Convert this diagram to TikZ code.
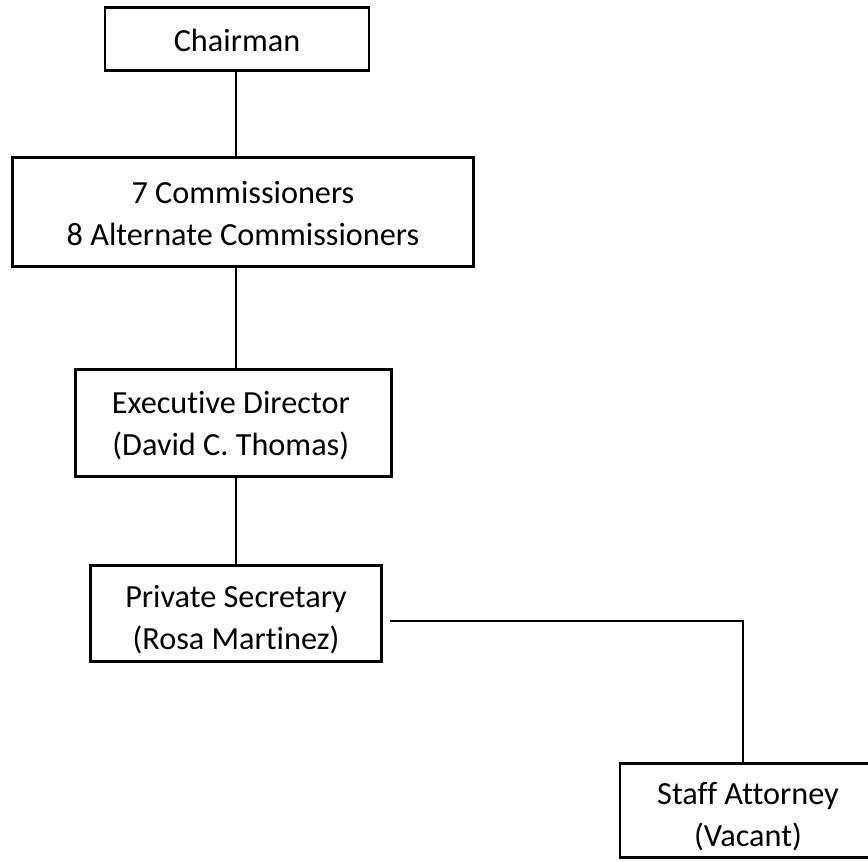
\documentclass[tikz,border=0pt]{standalone}
\usepackage{fontspec}
\setmainfont{Carlito}[Ligatures=NoCommon]
\begin{document}
\begin{tikzpicture}[x=0.75pt,y=-0.75pt,
  orgbox/.style={draw=black,line width=1.6pt,inner sep=0pt},
  boxtext/.style={align=center,inner sep=0pt,
    font=\fontsize{24.2pt}{31.2pt}\selectfont},
  link/.style={draw=black,line width=1.5pt}]
  % page area
  \clip (0,0) rectangle (868,861);
  \fill[white] (0,0) rectangle (868,861);

  % boxes of the chart
  \node[orgbox,minimum width=264pt*0.75,minimum height=63pt*0.75,
    label={[boxtext,yshift=-1pt]center:Chairman}] (chair) at (237,39) {};
  \node[orgbox,minimum width=461pt*0.75,minimum height=109pt*0.75,
    label={[boxtext,yshift=-1pt]center:{7 Commissioners\\8 Alternate Commissioners}}] (comm) at (243,212) {};
  \node[orgbox,minimum width=316pt*0.75,minimum height=107pt*0.75,
    label={[boxtext,xshift=-2pt,yshift=-2pt]center:{Executive Director\\(David C. Thomas)}}] (exec) at (233.5,423) {};
  \node[orgbox,minimum width=291pt*0.75,minimum height=96pt*0.75,
    label={[boxtext,yshift=-4.5pt]center:{Private Secretary\\(Rosa Martinez)}}] (psec) at (236,613.5) {};
  \node[orgbox,minimum width=256pt*0.75,minimum height=94pt*0.75,
    label={[boxtext,yshift=-4.5pt]center:{Staff Attorney\\(Vacant)}}] (staff) at (748,810.5) {};

  % vertical chain of command
  \coordinate (spine) at (236,0);
  \draw[link] (chair.south -| spine) -- (comm.north -| spine);
  \draw[link] (comm.south -| spine) -- (exec.north -| spine);
  \draw[link] (exec.south -| spine) -- (psec.north -| spine);

  % branch to the staff attorney
  \draw[link] ([shift={(7.5,7.5)}]psec.east) -| ([xshift=-5*0.75pt]staff.north);
\end{tikzpicture}
\end{document}
